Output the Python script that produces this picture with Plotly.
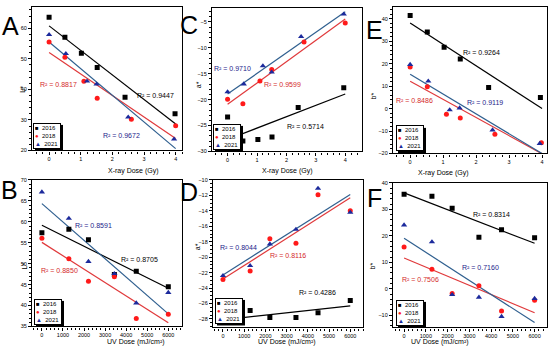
import numpy as np
import plotly.graph_objects as go

W, H = 550, 358

# ---------------- data ----------------
years = ["2016", "2018", "2021"]

# X-ray panels (A, C, E)
A_x_2016 = [0, 0.5, 1.02, 1.52, 2.4, 3.98]
A_x_2018 = [0, 0.5, 1.1, 1.52, 2.6, 4.0]
A_x_2021 = [0, 0.53, 1.2, 1.5, 2.5, 3.95]
A_L_2016 = [63.6, 57.1, 51.8, 47.2, 37.4, 32.0]
A_L_2018 = [55.5, 50.5, 42.7, 37.1, 30.2, 28.1]
A_L_2021 = [57.9, 51.7, 42.7, 41.7, 30.9, 23.7]

C_x_2016 = [0, 0.52, 1.03, 1.51, 2.4, 3.95]
C_x_2018 = [0, 0.52, 1.1, 1.5, 2.6, 4.0]
C_x_2021 = [0, 0.55, 1.2, 1.5, 2.5, 3.95]
C_a_2016 = [-23.35, -28.0, -27.7, -27.2, -21.5, -17.7]
C_a_2018 = [-19.9, -20.8, -16.4, -14.2, -8.9, -5.2]
C_a_2021 = [-18.5, -17.0, -13.5, -14.7, -7.85, -3.5]

E_x_2016 = [0, 0.52, 1.03, 1.52, 2.38, 3.95]
E_x_2018 = [0, 0.52, 1.1, 1.52, 2.57, 3.98]
E_x_2021 = [0, 0.55, 1.2, 1.5, 2.5, 3.93]
E_b_2016 = [41.5, 34.1, 27.3, 22.1, 9.4, 4.9]
E_b_2018 = [18.5, 9.7, -2.5, -4.2, -11.5, -15.2]
E_b_2021 = [19.6, 12.2, -0.6, 0.2, -9.6, -15.6]

# UV panels (B, D, F)
uv_dose = [0, 1280, 2210, 3440, 4480, 6000]
uv_dose_D2016 = [1280, 2210, 3440, 4480, 6000]
B_L_2016 = [57.4, 58.2, 55.7, 47.4, 48.2, 44.5]
B_L_2018 = [56.1, 51.2, 45.8, 46.9, 36.9, 37.9]
B_L_2021 = [67.1, 60.8, 50.5, 47.6, 40.6, 43.1]

D_a_2016 = [-26.9, -27.8, -27.8, -27.2, -25.6]
D_a_2018 = [-22.9, -21.8, -17.6, -18.2, -11.9, -14.0]
D_a_2021 = [-22.4, -21.1, -18.3, -16.4, -11.1, -14.2]

F_b_2016 = [35.7, 35.0, 30.4, 19.5, 22.3, 19.3]
F_b_2018 = [15.8, 7.4, -1.8, 1.2, -8.4, -4.3]
F_b_2021 = [24.1, 17.7, -2.2, -3.2, -10.5, -3.7]

# R^2 labels
A_r2 = ["R² = 0.9447", "R² = 0.8817", "R² = 0.9672"]
C_r2 = ["R² = 0.5714", "R² = 0.9599", "R² = 0.9710"]
E_r2 = ["R² = 0.9264", "R² = 0.8486", "R² = 0.9119"]
B_r2 = ["R² = 0.8705", "R² = 0.8850", "R² = 0.8591"]
D_r2 = ["R² = 0.4286", "R² = 0.8116", "R² = 0.8044"]
F_r2 = ["R² = 0.8314", "R² = 0.7506", "R² = 0.7160"]

# ---------------- styling ----------------
FONT = "Liberation Sans, Arial, sans-serif"
marker_col = ["#000000", "#ff1a1a", "#1c2a9c"]
line_col = ["#000000", "#e0393b", "#2f5f8f"]
text_col = ["#000000", "#d42a2a", "#23238a"]
symbols = ["square", "circle", "triangle-up"]

panels = [
    dict(letter="A", box=(32, 182, 4, 150), xr=[-0.54, 4.2], yr=[20, 67], ydt=10, xdt=1,
         xs=[A_x_2016, A_x_2018, A_x_2021], ys=[A_L_2016, A_L_2018, A_L_2021], fitx=[0, 4],
         r2=A_r2, r2pos=[(3.35, 38.1), (0.3, 41.7), (2.3, 24.8)],
         ytitle="L*", xtitle="X-ray Dose (Gy)", letpos=(10, 23), ytpos=(17, 82), xtpos=(106, 171),
         leg=(33, 148)),
    dict(letter="C", box=(212, 362, 5, 151), xr=[-0.53, 4.57], yr=[-30, -2.3], ydt=5, xdt=1,
         xs=[C_x_2016, C_x_2018, C_x_2021], ys=[C_a_2016, C_a_2018, C_a_2021], fitx=[0, 4],
         r2=C_r2, r2pos=[(2.64, -25.25), (1.88, -17.0), (0.16, -13.9)],
         ytitle="a*", xtitle="X-ray Dose (Gy)", letpos=(189, 22), ytpos=(198, 78), xtpos=(287, 171),
         leg=(213, 149)),
    dict(letter="E", box=(393, 547, 4, 153), xr=[-0.52, 4.15], yr=[-20, 45.3], ydt=10, xdt=1,
         xs=[E_x_2016, E_x_2018, E_x_2021], ys=[E_b_2016, E_b_2018, E_b_2021], fitx=[0, 4],
         r2=E_r2, r2pos=[(2.15, 25.1), (0.12, 3.8), (2.28, 2.8)],
         ytitle="b*", xtitle="X-ray Dose (Gy)", letpos=(374, 27), ytpos=(379, 89), xtpos=(471, 173),
         leg=(396, 151)),
    dict(letter="B", box=(32, 182, 180, 329), xr=[-470, 6650], yr=[35, 70], ydt=5, xdt=1000,
         xs=[uv_dose, uv_dose, uv_dose], ys=[B_L_2016, B_L_2018, B_L_2021], fitx=[0, 6000],
         r2=B_r2, r2pos=[(4640, 51.1), (820, 48.3), (2430, 59.2)],
         ytitle="L*", xtitle="UV Dose (mJ/cm²)", letpos=(9, 190), ytpos=(19, 273), xtpos=(105, 351),
         leg=(34, 327)),
    dict(letter="D", box=(213, 363, 180, 330), xr=[-470, 6600], yr=[-29.1, -10], ydt=2, xdt=1000,
         xs=[uv_dose_D2016, uv_dose, uv_dose], ys=[D_a_2016, D_a_2018, D_a_2021], fitx=[0, 6000],
         r2=D_r2, r2pos=[(4450, -24.6), (3080, -19.8), (710, -18.8)],
         ytitle="a*", xtitle="UV Dose (mJ/cm²)", letpos=(189, 192), ytpos=(197, 254), xtpos=(287, 351),
         leg=(215, 326)),
    dict(letter="F", box=(393, 547, 183, 330), xr=[-510, 6570], yr=[-14.6, 40], ydt=10, xdt=1000,
         xs=[uv_dose, uv_dose, uv_dose], ys=[F_b_2016, F_b_2018, F_b_2021], fitx=[0, 6000],
         r2=F_r2, r2pos=[(4030, 28.2), (770, 3.4), (3490, 8.0)],
         ytitle="b*", xtitle="UV Dose (mJ/cm²)", letpos=(374, 198), ytpos=(378, 273), xtpos=(471, 351),
         leg=(396, 328)),
]

fig = go.Figure()
annotations = []
shapes = []
layout = {}

def px2paper(x, y):
    return x / W, 1 - y / H

for i, p in enumerate(panels):
    n = "" if i == 0 else str(i + 1)
    xa, ya = "x" + n, "y" + n
    L, R, T, B = p["box"]
    axis_common = dict(showline=True, linecolor="black", linewidth=1.3, mirror=True,
                       ticks="outside", ticklen=3, tickwidth=1, tickcolor="black",
                       showgrid=False, zeroline=False,
                       tickfont=dict(size=5.5, family=FONT, color="black"),
                       minor=dict(ticks="outside", ticklen=2, tickwidth=0.8, tickcolor="black"))
    layout["xaxis" + n] = dict(domain=[L / W, R / W], anchor=ya, range=p["xr"],
                               dtick=p["xdt"], tick0=0, **axis_common)
    layout["yaxis" + n] = dict(domain=[1 - B / H, 1 - T / H], anchor=xa, range=p["yr"],
                               dtick=p["ydt"], tick0=0, **axis_common)
    for k in range(3):
        xs = np.array(p["xs"][k], dtype=float)
        ys = np.array(p["ys"][k], dtype=float)
        slope, icpt = np.polyfit(xs, ys, 1)
        fx = np.array(p["fitx"], dtype=float)
        fig.add_trace(go.Scatter(x=fx, y=slope * fx + icpt, mode="lines", xaxis=xa, yaxis=ya,
                                 line=dict(color=line_col[k], width=1.2), showlegend=False,
                                 hoverinfo="skip"))
    for k in range(3):
        fig.add_trace(go.Scatter(x=p["xs"][k], y=p["ys"][k], mode="markers", xaxis=xa, yaxis=ya,
                                 marker=dict(symbol=symbols[k], color=marker_col[k],
                                             size=5 if k < 2 else 5.5, line=dict(width=0)),
                                 name=years[k], showlegend=False))
    for k in range(3):
        annotations.append(dict(x=p["r2pos"][k][0], y=p["r2pos"][k][1], xref=xa, yref=ya,
                                text=p["r2"][k], showarrow=False,
                                font=dict(size=7, family=FONT, color=text_col[k])))
    lx, ly = px2paper(*p["letpos"])
    annotations.append(dict(x=lx, y=ly, xref="paper", yref="paper", text=p["letter"],
                            showarrow=False, xanchor="center", yanchor="middle",
                            font=dict(size=25, family="Liberation Sans Narrow, Arial Narrow, Liberation Sans",
                                      color="black")))
    tx, ty = px2paper(*p["ytpos"])
    annotations.append(dict(x=tx, y=ty, xref="paper", yref="paper", text=p["ytitle"], textangle=-90,
                            showarrow=False, font=dict(size=7, family=FONT, color="black")))
    tx, ty = px2paper(*p["xtpos"])
    annotations.append(dict(x=tx, y=ty, xref="paper", yref="paper", text=p["xtitle"],
                            showarrow=False, font=dict(size=7, family=FONT, color="black")))
    lgx, lgy = p["leg"]
    bw, bh = 28, 26
    sx0, sy0 = px2paper(lgx + 2, lgy + 2)
    sx1, sy1 = px2paper(lgx + 2 + bw, lgy + 2 - bh)
    shapes.append(dict(type="rect", xref="paper", yref="paper", x0=sx0, y0=sy0, x1=sx1, y1=sy1,
                       fillcolor="black", line=dict(width=0), layer="above"))
    legtext = "<br>".join(
        f'<span style="color:{marker_col[k]};font-size:6px">{g}</span>  {years[k]}'
        for k, g in enumerate(["■", "●", "▲"]))
    ax0, ay0 = px2paper(lgx, lgy)
    annotations.append(dict(x=ax0, y=ay0, xref="paper", yref="paper", xanchor="left", yanchor="bottom",
                            text=legtext, showarrow=False, align="left", valign="middle",
                            width=bw - 4, height=bh - 4, borderpad=1, borderwidth=1,
                            bordercolor="black", bgcolor="white",
                            font=dict(size=6, family=FONT, color="black")))

fig.update_layout(width=W, height=H, margin=dict(l=0, r=0, t=0, b=0),
                  paper_bgcolor="white", plot_bgcolor="white", showlegend=False,
                  annotations=annotations, shapes=shapes, **layout)

fig.write_html("out.html", config={"displayModeBar": False},
               post_script="document.body.style.margin='0';document.body.style.overflow='hidden';")
